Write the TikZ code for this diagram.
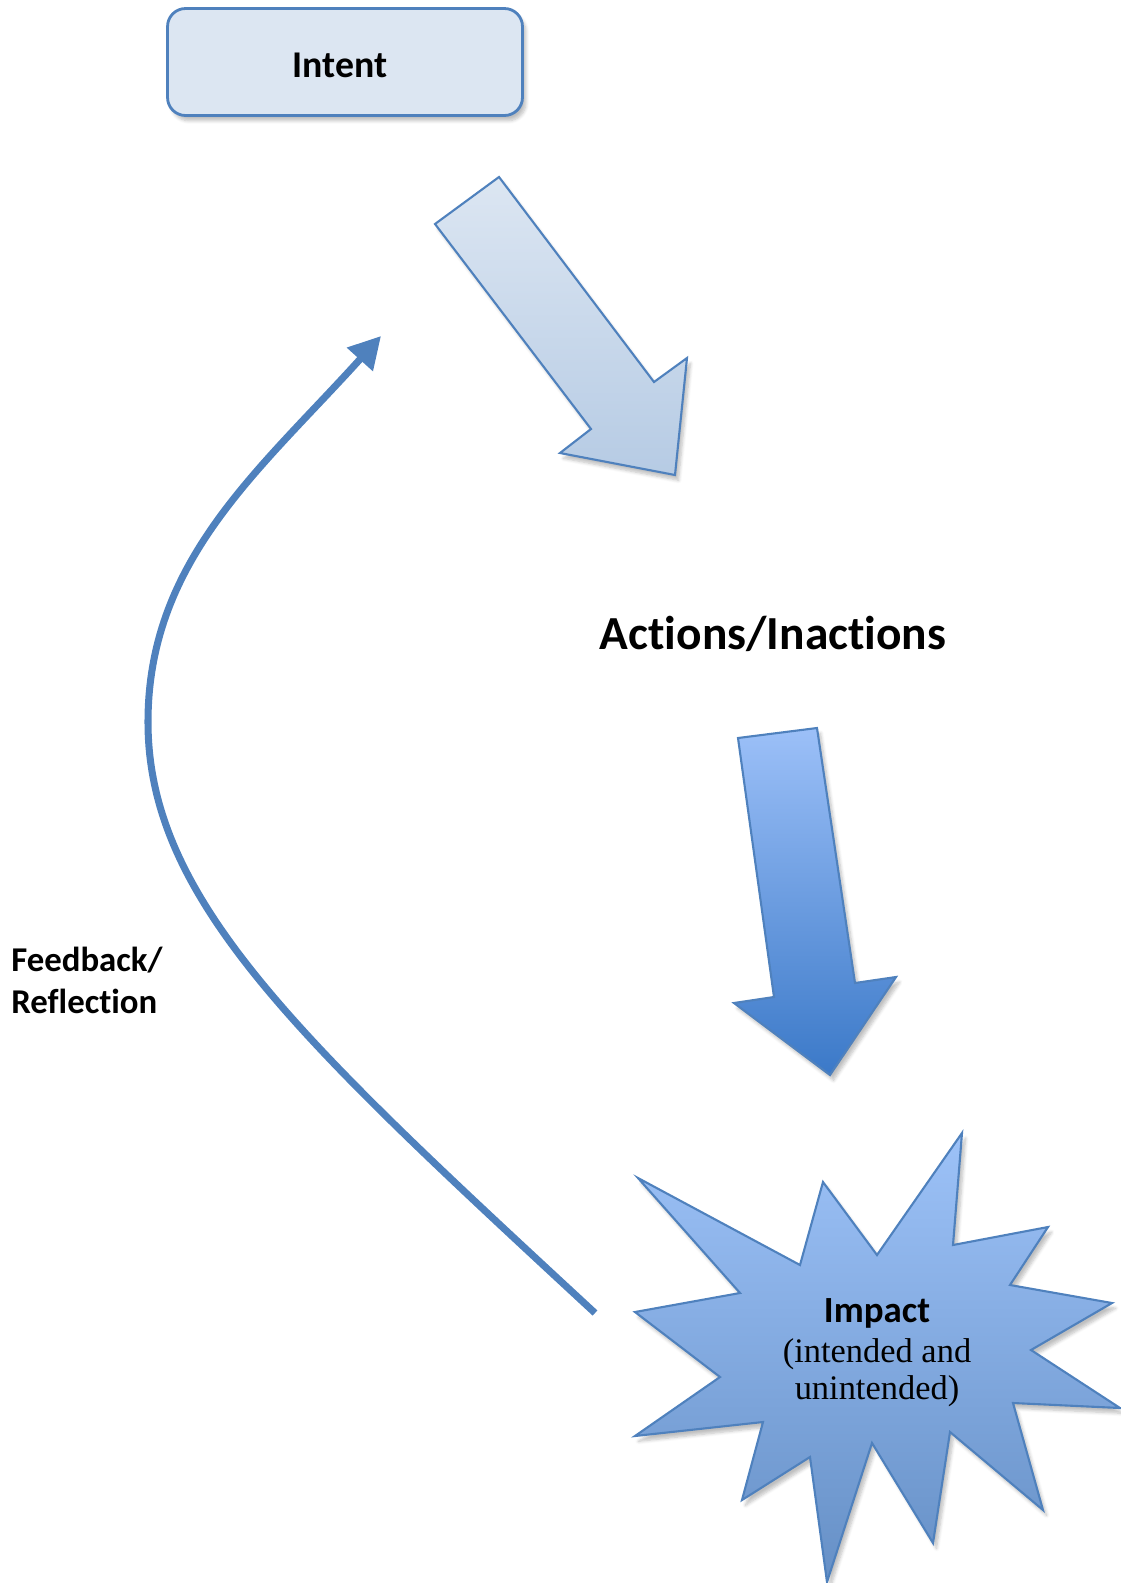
\documentclass[tikz,border=0pt]{standalone}
\usepackage{fontspec}
\setmainfont{Liberation Serif}
\setsansfont{Carlito}[RawFeature=-liga]
\usetikzlibrary{arrows.meta,shadows.blur}
\definecolor{boxfill}{HTML}{DCE6F2}
\definecolor{edgeblue}{HTML}{4F81BD}
\definecolor{paletop}{HTML}{DCE6F2}
\definecolor{palebot}{HTML}{B6CBE4}
\definecolor{downtop}{HTML}{9CC0F8}
\definecolor{downbot}{HTML}{3B79C8}
\definecolor{startop}{HTML}{9DC2F8}
\definecolor{starbot}{HTML}{6690C6}
\tikzset{
  outline/.style={draw=edgeblue, line width=1.2pt, line join=miter},
  softshadow/.style={blur shadow={shadow xshift=2pt, shadow yshift=-3pt, shadow opacity=25, shadow blur steps=6}},
  boldtext/.style={font=\sffamily\bfseries, text=black},
}
\begin{document}
\begin{tikzpicture}[x=0.02cm, y=-0.02cm]
    \useasboundingbox (0,0) rectangle (1120,1583);
    %% intent box
    \node[outline, line width=1.6pt, fill=boxfill, rounded corners=0.36cm, softshadow,
          minimum width=7.1cm, minimum height=2.14cm, boldtext, font=\sffamily\bfseries\fontsize{21.5}{25}\selectfont]
          (intent) at (345,62) {};
    \node[boldtext, font=\sffamily\bfseries\fontsize{21.5}{25}\selectfont] (intentlbl) at (340,65) {Intent};
    %% first block arrow
    \path[outline, top color=paletop, bottom color=palebot, softshadow]
        (435,224) -- (499,177) -- (654,382) -- (687,358) -- (675,475) -- (560,453) -- (591,429) -- cycle;
    %% actions
    \node[boldtext, font=\sffamily\bfseries\fontsize{27}{32}\selectfont] (actions) at (773,634) {Actions/Inactions};
    %% second block arrow
    \path[outline, top color=downtop, bottom color=downbot, softshadow]
        (738,738) -- (817,728) -- (855,983) -- (896,977) -- (830,1075) -- (734,1003) -- (774,997) -- cycle;
    %% impact star
    \path[outline, top color=startop, bottom color=starbot, softshadow]
        (638,1178) -- (800,1265) -- (823,1182) -- (877,1255) -- (962,1133) -- (953,1245)
        -- (1048,1227) -- (1010,1285) -- (1112,1303) -- (1031,1350) -- (1120,1408) -- (1013,1403)
        -- (1043,1510) -- (950,1432) -- (933,1543) -- (872,1443) -- (827,1582) -- (810,1457)
        -- (742,1500) -- (763,1422) -- (635,1436) -- (720,1377) -- (635,1312) -- (740,1293) -- cycle;
    \node[align=center, font=\fontsize{19.6}{21.5}\selectfont, inner sep=0pt] (impact) at (877,1353)
        {{\sffamily\bfseries\fontsize{21}{25}\selectfont Impact}\\[1pt](intended and\\unintended)};
    %% feedback loop
    \coordinate (fbstart) at (595,1313);
    \coordinate (fbend) at (381,336);
    \draw[edgeblue, line width=4pt, -{Triangle[length=18pt, width=19pt]}]
        (fbstart) .. controls (300,1040) and (148,900) .. (148,722)
        .. controls (148,560) and (260,470) .. (fbend);
    \node[boldtext, font=\sffamily\bfseries\fontsize{19.8}{24}\selectfont, align=left, anchor=west, inner sep=0pt]
        (feedback) at (11,980) {Feedback/\\Reflection};
\end{tikzpicture}
\end{document}
